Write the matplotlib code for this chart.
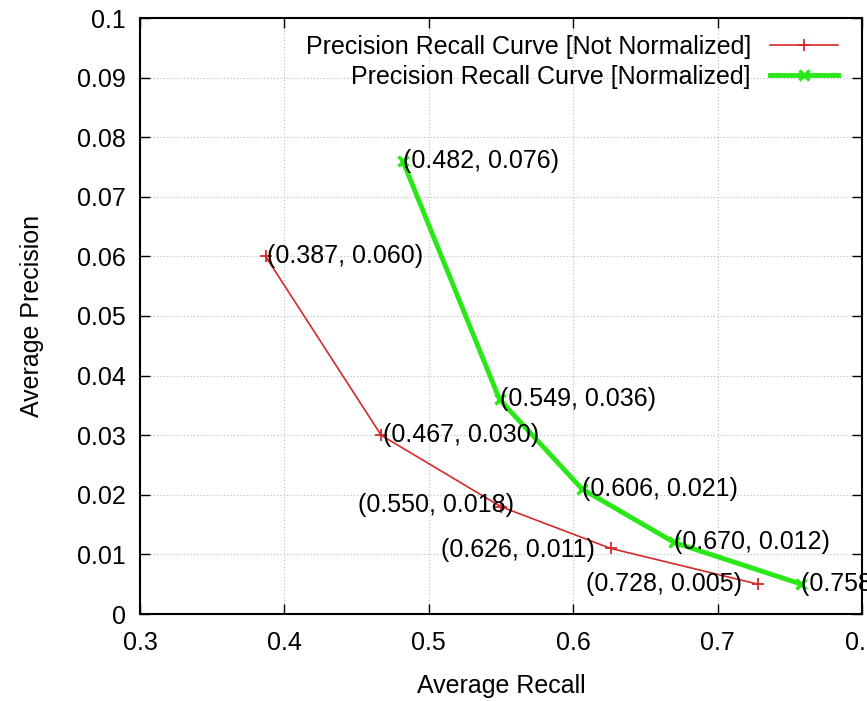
import matplotlib
matplotlib.use("Agg")
import matplotlib.pyplot as plt

plt.rcParams['font.family'] = ['Liberation Sans', 'DejaVu Sans']

recall_raw = [0.387, 0.467, 0.550, 0.626, 0.728]
precision_raw = [0.060, 0.030, 0.018, 0.011, 0.005]
recall_norm = [0.482, 0.549, 0.606, 0.670, 0.758]
precision_norm = [0.076, 0.036, 0.021, 0.012, 0.005]

x_ticks = [0.3, 0.4, 0.5, 0.6, 0.7, 0.8]
x_tick_labels = ['0.3', '0.4', '0.5', '0.6', '0.7', '0.8']
y_ticks = [0, 0.01, 0.02, 0.03, 0.04, 0.05, 0.06, 0.07, 0.08, 0.09, 0.1]
y_tick_labels = ['0', '0.01', '0.02', '0.03', '0.04', '0.05', '0.06', '0.07', '0.08', '0.09', '0.1']

label_raw = "Precision Recall Curve [Not Normalized]"
label_norm = "Precision Recall Curve [Normalized]"

fig = plt.figure(figsize=(8.67, 7.01), dpi=100)
ax = fig.add_axes([140/867, 1-614/701, (862-140)/867, (614-18)/701])

red = '#d42a2a'
green = '#2ae818'

ax.plot(recall_raw, precision_raw, color=red, lw=1.2, marker='+', ms=8, mew=1.3,
        label=label_raw, clip_on=False, zorder=3)
ax.plot(recall_norm, precision_norm, color=green, lw=3.5, marker='x', ms=7, mew=2.5,
        label=label_norm, clip_on=False, zorder=3)

fs = 18
# label offsets in points (dx, dy, ha)
raw_offsets = [(1, 0, 'left'), (1, 0, 'left'), (9, 1, 'right'), (-11.5, -1, 'right'), (-11.5, 0, 'right')]
norm_offsets = [(0, 0, 'left'), (0, 0, 'left'), (0, 0, 'left'), (0, 0, 'left'), (0, 0, 'left')]
for x, y, (dx, dy, ha) in zip(recall_raw, precision_raw, raw_offsets):
    ax.annotate(f"({x:.3f}, {y:.3f})", (x, y), xytext=(dx, dy), textcoords='offset points',
                ha=ha, va='center', fontsize=fs, annotation_clip=False, zorder=4)
for x, y, (dx, dy, ha) in zip(recall_norm, precision_norm, norm_offsets):
    ax.annotate(f"({x:.3f}, {y:.3f})", (x, y), xytext=(dx, dy), textcoords='offset points',
                ha=ha, va='center', fontsize=fs, annotation_clip=False, zorder=4)

ax.set_xlim(0.3, 0.8)
ax.set_ylim(0, 0.1)
ax.set_xticks(x_ticks)
ax.set_xticklabels(x_tick_labels)
ax.set_yticks(y_ticks)
ax.set_yticklabels(y_tick_labels)
ax.tick_params(direction='in', length=7, width=1, top=True, right=True,
               labelsize=fs, pad=10, colors='black')
ax.tick_params(axis='x', pad=12)
ax.grid(True, color='#bbbbbb', linestyle=(0, (1, 2)), lw=0.8)
ax.set_axisbelow(True)
for s in ax.spines.values():
    s.set_linewidth(1.5)

ax.set_xlabel("Average Recall", fontsize=fs, labelpad=14)
ax.set_ylabel("Average Precision", fontsize=fs, labelpad=24)

leg = ax.legend(loc='upper right', bbox_to_anchor=(1.0, 1.012), frameon=False,
                markerfirst=False, fontsize=fs, handlelength=2.75,
                handletextpad=0.75, labelspacing=0.25, borderaxespad=0.55)

fig.savefig("out.png", dpi=100)
